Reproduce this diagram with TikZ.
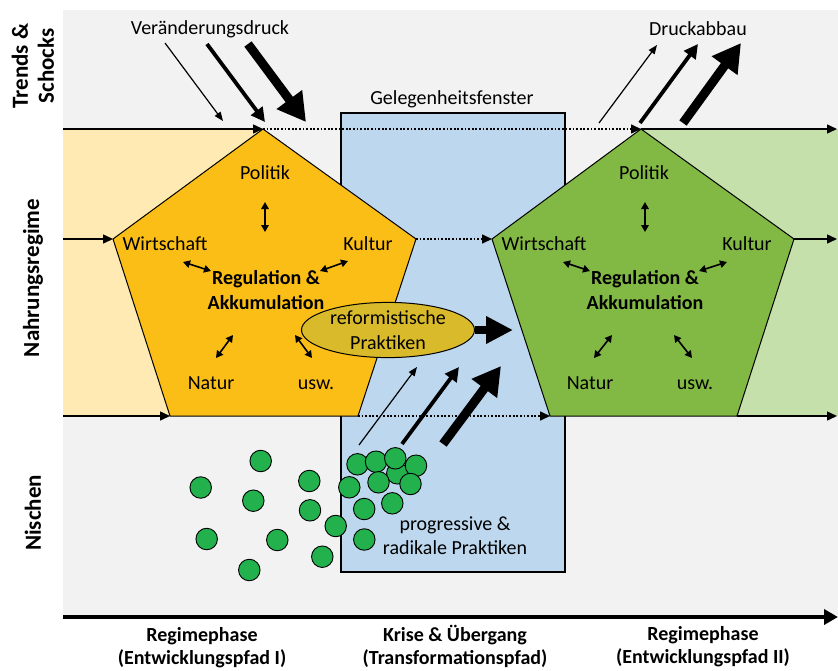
\documentclass[tikz,border=0pt]{standalone}
\usepackage{fontspec}
\setmainfont{Carlito}
\usetikzlibrary{arrows.meta,shapes.geometric}
\definecolor{bggray}{RGB}{242,242,242}
\definecolor{lightyel}{RGB}{254,234,178}
\definecolor{lightgrn}{RGB}{197,224,171}
\definecolor{orangep}{RGB}{251,190,22}
\definecolor{greenp}{RGB}{130,184,68}
\definecolor{bluebox}{RGB}{189,215,238}
\definecolor{mustard}{RGB}{217,186,43}
\definecolor{dotgreen}{RGB}{34,177,76}
\tikzset{
  hline/.style={line width=1.5pt, -{Triangle[length=10pt,width=9pt]}},
  dotline/.style={line width=1.6pt, dash pattern=on 1.8pt off 1.8pt, -{Triangle[length=10pt,width=9pt]}},
  dbl/.style={line width=1.6pt, {Triangle[length=7pt,width=7.5pt]}-{Triangle[length=7pt,width=7.5pt]}},
  thinarr/.style={line width=1.2pt, -{Triangle[length=9pt,width=7pt]}},
  medarr/.style={line width=3.8pt, -{Triangle[length=14pt,width=14pt]}},
  thickarr/.style={line width=9pt, -{Triangle[length=28pt,width=30pt]}},
  txt/.style={font=\fontsize{20}{24}\selectfont, inner sep=0pt, align=center, anchor=base},
  btxt/.style={font=\fontsize{20}{25}\selectfont\bfseries, inner sep=0pt, align=center, anchor=base},
  bottxt/.style={font=\fontsize{20}{23}\selectfont\bfseries, inner sep=0pt, align=center, anchor=base},
  side/.style={font=\fontsize{23}{26}\selectfont\bfseries, rotate=90, align=center, inner sep=0pt},
  dot/.style={circle, draw, line width=0.9pt, fill=dotgreen, minimum size=21.5pt, inner sep=0pt},
  pent/.style={draw, line width=1pt, line join=miter},
}
\begin{document}
\begin{tikzpicture}[x=1pt,y=-1pt]
\useasboundingbox (0,0) rectangle (838,670);
% background
\fill[bggray] (63,10) rectangle (838,615);
\fill[lightyel] (63,129) rectangle (263,416);
\fill[lightgrn] (640,129) rectangle (838,416);
% window box
\draw[fill=bluebox, line width=2pt] (341,113) rectangle (565,572);
\node[txt] (win) at (452,104) {Gelegenheitsfenster};

% coordinates of pentagons
\coordinate (oA) at (263,129); \coordinate (oL) at (113,239); \coordinate (oBL) at (170,416);
\coordinate (oBR) at (358,416); \coordinate (oR) at (416,239);
\coordinate (gA) at (641,129); \coordinate (gL) at (492,239); \coordinate (gBL) at (550,416);
\coordinate (gBR) at (737,416); \coordinate (gR) at (794,239);
\coordinate (l1) at (63,129); \coordinate (l2) at (63,239); \coordinate (l3) at (63,416);
\coordinate (r1) at (837,129); \coordinate (r2) at (837,239); \coordinate (r3) at (837,416);

% pentagons
\draw[pent, fill=orangep] (oA) -- (oR) -- (oBR) -- (oBL) -- (oL) -- cycle;
\draw[pent, fill=greenp] (gA) -- (gR) -- (gBR) -- (gBL) -- (gL) -- cycle;

% horizontal lines
\draw[hline] (l1) -- (oA);
\draw[hline] (l2) -- (oL);
\draw[hline] (l3) -- (oBL);
\draw[hline] (gA) -- (r1);
\draw[hline] (gR) -- (r2);
\draw[hline] (gBR) -- (r3);
\draw[dotline] (oA) -- (gA);
\draw[dotline] (oR) -- (gL);
\draw[dotline] (oBR) -- (gBL);

% pentagon texts (orange)
\node[txt] (op) at (265,179.3) {Politik};
\node[txt] (ow) at (165,250.7) {Wirtschaft};
\node[txt] (ok) at (368,250.7) {Kultur};
\node[btxt] (ora) at (266,309.3) {Regulation \&\\Akkumulation};
\node[txt] (on) at (211,389) {Natur};
\node[txt] (ou) at (316,389) {usw.};
\coordinate (opa) at (265,202); \coordinate (opb) at (265,232);
\coordinate (owa) at (183,262); \coordinate (owb) at (211,271);
\coordinate (oka) at (320,271); \coordinate (okb) at (348,261);
\coordinate (ona) at (216,358); \coordinate (onb) at (233,335);
\coordinate (oua) at (295,335); \coordinate (oub) at (312,358);
\draw[dbl] (opa) -- (opb);
\draw[dbl] (owa) -- (owb);
\draw[dbl] (oka) -- (okb);
\draw[dbl] (ona) -- (onb);
\draw[dbl] (oua) -- (oub);

% pentagon texts (green)
\node[txt] (gp) at (644,179.3) {Politik};
\node[txt] (gw) at (544,250.7) {Wirtschaft};
\node[txt] (gk) at (747,250.7) {Kultur};
\node[btxt] (gra) at (645,309.3) {Regulation \&\\Akkumulation};
\node[txt] (gn) at (590,389) {Natur};
\node[txt] (gu) at (695,389) {usw.};
\coordinate (gpa) at (645,202); \coordinate (gpb) at (645,232);
\coordinate (gwa) at (563,262); \coordinate (gwb) at (590,271);
\coordinate (gka) at (699,271); \coordinate (gkb) at (727,262);
\coordinate (gna) at (594,358); \coordinate (gnb) at (612,335);
\coordinate (gua) at (674,335); \coordinate (gub) at (692,358);
\draw[dbl] (gpa) -- (gpb);
\draw[dbl] (gwa) -- (gwb);
\draw[dbl] (gka) -- (gkb);
\draw[dbl] (gna) -- (gnb);
\draw[dbl] (gua) -- (gub);

% pressure arrows
\node[txt] (vd) at (210,34.5) {Veränderungsdruck};
\coordinate (v1s) at (165,43); \coordinate (v1e) at (223,121);
\coordinate (v2s) at (207,44); \coordinate (v2e) at (265,122);
\coordinate (v3s) at (248,44); \coordinate (v3e) at (306,122);
\draw[thinarr] (v1s) -- (v1e);
\draw[medarr] (v2s) -- (v2e);
\draw[thickarr] (v3s) -- (v3e);

\node[txt] (da) at (698,35) {Druckabbau};
\coordinate (d1s) at (599,123); \coordinate (d1e) at (657,45);
\coordinate (d2s) at (640,123); \coordinate (d2e) at (698,44);
\coordinate (d3s) at (683,123); \coordinate (d3e) at (741,43);
\draw[thinarr] (d1s) -- (d1e);
\draw[medarr] (d2s) -- (d2e);
\draw[thickarr] (d3s) -- (d3e);

% niche arrows
\coordinate (n1s) at (359,445); \coordinate (n1e) at (417,367);
\coordinate (n2s) at (402,444); \coordinate (n2e) at (459,367);
\coordinate (n3s) at (443,444); \coordinate (n3e) at (501,366);
\draw[thinarr] (n1s) -- (n1e);
\draw[medarr] (n2s) -- (n2e);
\draw[thickarr] (n3s) -- (n3e);

% reformist ellipse
\node[ellipse, draw, line width=1pt, fill=mustard, minimum width=173pt, minimum height=54pt,
      inner sep=0pt, align=center, font=\fontsize{20}{25}\selectfont] (ref) at (388,330)
      {reformistische\\Praktiken};
\coordinate (refT) at (513,330);
\draw[line width=8pt, -{Triangle[length=27pt,width=26pt]}] (ref.east) -- (refT);

% niche dots
\node[dot] (c16) at (397.3,473.3) {};
\node[dot] (c1) at (260.7,461) {};
\node[dot] (c2) at (200.7,487.5) {};
\node[dot] (c3) at (253.3,500.7) {};
\node[dot] (c4) at (309.3,481) {};
\node[dot] (c5) at (310,510.3) {};
\node[dot] (c6) at (335.7,526) {};
\node[dot] (c7) at (206.7,539) {};
\node[dot] (c8) at (277.3,540) {};
\node[dot] (c9) at (249.3,570) {};
\node[dot] (c10) at (322.3,556.7) {};
\node[dot] (c11) at (349.3,487.3) {};
\node[dot] (c12) at (357.5,464.3) {};
\node[dot] (c13) at (376,461.7) {};
\node[dot] (c14) at (395.3,458.3) {};
\node[dot] (c15) at (416,465.7) {};
\node[dot] (c17) at (378.5,482.3) {};
\node[dot] (c18) at (410.5,484) {};
\node[dot] (c19) at (364.2,509) {};
\node[dot] (c20) at (392.3,503.3) {};
\node[dot] (c21) at (364.3,539.5) {};
\node[txt] (prog) at (455,554) {progressive \&\\radikale Praktiken};

% time axis
\coordinate (axL) at (63,617); \coordinate (axR) at (838,617);
\draw[line width=4.3pt, -{Triangle[length=14pt,width=15pt]}] (axL) -- (axR);
\node[bottxt] (b1) at (202,664) {Regimephase\\(Entwicklungspfad I)};
\node[bottxt] (b2) at (455,664) {Krise \& Übergang\\(Transformationspfad)};
\node[bottxt] (b3) at (703,663) {Regimephase\\(Entwicklungspfad II)};

% side labels
\node[side] (sTS) at (33,66) {Trends \&\\Schocks};
\node[side] (sNR) at (33,278) {Nahrungsregime};
\node[side] (sN) at (33,513) {Nischen};
\end{tikzpicture}
\end{document}
